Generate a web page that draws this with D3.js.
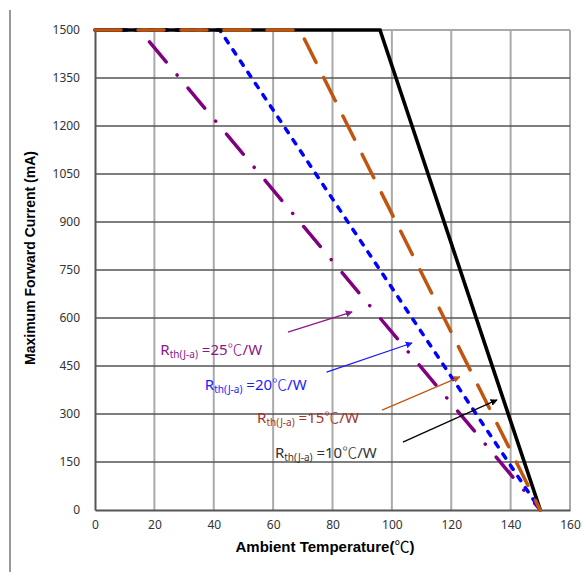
<!DOCTYPE html>
<html>
<head>
<meta charset="utf-8">
<script src="https://cdn.jsdelivr.net/npm/d3@7"></script>
<style>
  body { margin: 0; background: #fff; }
  svg { display: block; }
  .tick text { font-family: "Noto Sans", sans-serif; font-size: 12px; fill: #333; }
</style>
</head>
<body>
<svg id="chart" width="585" height="572"></svg>
<script>
// derating curves: [ambient temp, max current]
const xTicks = [0, 20, 40, 60, 80, 100, 120, 140, 160];
const yTicks = [0, 150, 300, 450, 600, 750, 900, 1050, 1200, 1350, 1500];

const r25 = [[0, 1500], [15, 1500], [150, 0]];
const r20 = [[0, 1500], [42, 1500], [150, 0]];
const r15 = [[0, 1500], [69, 1500], [150, 0]];
const r10 = [[0, 1500], [96, 1500], [150, 0]];

const labelVals = ["25", "20", "15", "10"];
// label anchor + arrow start/end (data coords)
const labelPos = [[22, 484], [37, 375], [54.6, 272], [60.6, 162]];
const arrowFrom = [[65, 556], [78, 431], [96.7, 312], [103.7, 212]];
const arrowTo = [[86.6, 619], [106.8, 522], [122.9, 416], [135.4, 344]];

const width = 585, height = 572;
const margin = { top: 30, right: 15, bottom: 62, left: 95 };

const svg = d3.select("#chart");

const x = d3.scaleLinear().domain([0, 160]).range([margin.left, width - margin.right]);
const y = d3.scaleLinear().domain([0, 1500]).range([height - margin.bottom, margin.top]);

// outer frame left edge
svg.append("line")
  .attr("x1", 10).attr("x2", 10).attr("y1", 10).attr("y2", height)
  .attr("stroke", "#999").attr("stroke-width", 2);

// vertical grid
svg.append("g")
  .selectAll("line")
  .data(xTicks.slice(1))
  .join("line")
  .attr("x1", d => x(d)).attr("x2", d => x(d))
  .attr("y1", y(0)).attr("y2", y(1500))
  .attr("stroke", "#aaa").attr("stroke-width", 2);

// top border
svg.append("line")
  .attr("x1", x(0)).attr("x2", x(160)).attr("y1", y(1500)).attr("y2", y(1500))
  .attr("stroke", "#aaa").attr("stroke-width", 2);

// horizontal grid
svg.append("g")
  .selectAll("line")
  .data(yTicks.slice(1, -1))
  .join("line")
  .attr("x1", x(0)).attr("x2", x(160))
  .attr("y1", d => y(d)).attr("y2", d => y(d))
  .attr("stroke", "#555").attr("stroke-width", 1.5);

// axes
const xAxis = svg.append("g")
  .attr("transform", `translate(0,${y(0)})`)
  .call(d3.axisBottom(x).tickValues(xTicks).tickSize(0).tickPadding(10));
xAxis.select(".domain").attr("stroke", "#555").attr("stroke-width", 2);

const yAxis = svg.append("g")
  .attr("transform", `translate(${x(0)},0)`)
  .call(d3.axisLeft(y).tickValues(yTicks).tickFormat(d3.format("d")).tickSize(0).tickPadding(15));
yAxis.select(".domain").attr("stroke", "#555").attr("stroke-width", 2);

// axis titles
const xt = svg.append("text")
  .attr("x", 325).attr("y", 552)
  .attr("text-anchor", "middle")
  .style("font-family", "'Liberation Sans', Arial, sans-serif")
  .style("font-weight", "bold").style("font-size", "15px");
xt.append("tspan").text("Ambient Temperature(");
xt.append("tspan").style("font-family", "'Noto Sans CJK JP'").style("font-weight", "normal").text("℃");
xt.append("tspan").text(")");

svg.append("text")
  .attr("transform", "translate(35,258)rotate(-90)")
  .attr("text-anchor", "middle")
  .style("font-family", "'Liberation Sans', Arial, sans-serif")
  .style("font-weight", "bold").style("font-size", "14px")
  .text("Maximum Forward Current (mA)");

const line = d3.line().x(d => x(d[0])).y(d => y(d[1]));

const curves = [
  { data: r25, color: "#800080", dash: "26,17,0.1,17", w: 3.5 },
  { data: r20, color: "#0000ff", dash: "5,8.5", w: 3.5 },
  { data: r10, color: "#000", dash: null, w: 3.6 },
  { data: r15, color: "#bf550f", dash: "26,17", w: 3.5 }
];

svg.append("g")
  .selectAll("path")
  .data(curves)
  .join("path")
  .attr("d", d => line(d.data))
  .attr("fill", "none")
  .attr("stroke", d => d.color)
  .attr("stroke-width", d => d.w)
  .attr("stroke-dasharray", d => d.dash)
  .attr("stroke-linecap", d => d.dash ? "round" : "butt");

// annotations
const textColors = ["#8b168b", "#1a1aff", "#a3322a", "#333"];
const arrowColors = ["#8b168b", "#1a1aff", "#c0560f", "#000"];

const defs = svg.append("defs");
arrowColors.forEach((c, i) => {
  defs.append("marker")
    .attr("id", "arr" + i)
    .attr("viewBox", "0 0 10 10")
    .attr("refX", 9).attr("refY", 5)
    .attr("markerWidth", 7).attr("markerHeight", 7)
    .attr("markerUnits", "userSpaceOnUse")
    .attr("orient", "auto")
    .append("path")
    .attr("d", "M0,0L10,5L0,10z")
    .attr("fill", c);
});

labelVals.forEach((v, i) => {
  svg.append("line")
    .attr("x1", x(arrowFrom[i][0])).attr("y1", y(arrowFrom[i][1]))
    .attr("x2", x(arrowTo[i][0])).attr("y2", y(arrowTo[i][1]))
    .attr("stroke", arrowColors[i]).attr("stroke-width", 1.2)
    .attr("marker-end", `url(#arr${i})`);

  const t = svg.append("text")
    .attr("x", x(labelPos[i][0])).attr("y", y(labelPos[i][1]))
    .attr("fill", textColors[i])
    .style("font-family", "'Noto Sans', sans-serif")
    .style("font-size", "15px");
  t.append("tspan").text("R");
  t.append("tspan").attr("dy", 3).style("font-size", "10px").text("th(J-a)");
  t.append("tspan").attr("dy", -3).text(" =" + v);
  t.append("tspan").style("font-family", "'Noto Sans CJK JP'").style("font-weight", "300").text("℃");
  t.append("tspan").text("/W");
});
</script>
</body>
</html>
